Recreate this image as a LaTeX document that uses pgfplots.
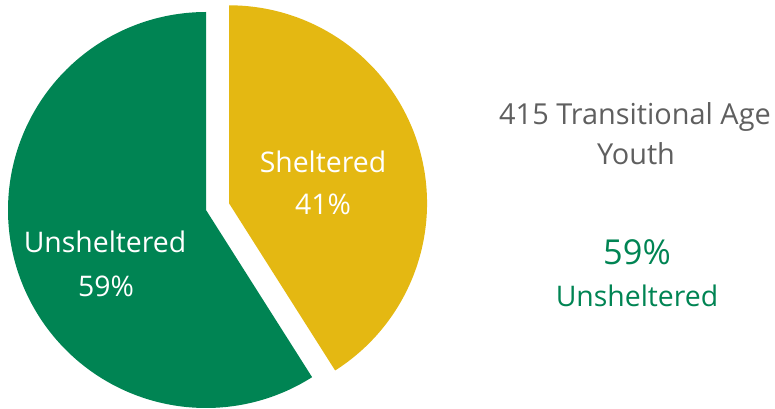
\documentclass[border=0pt]{standalone}
\usepackage{pgfplots}
\usepackage{pgfplotstable}
\pgfplotsset{compat=1.18}
\usepackage{fontspec}
\setmainfont{Open Sans}
\definecolor{pgreen}{HTML}{008453}
\definecolor{pyellow}{HTML}{E4B812}
\definecolor{pgray}{HTML}{5F5F5F}
\pgfplotstableread{
label value
Sheltered 41
Unsheltered 59
}\piedata
\begin{document}
\begin{tikzpicture}
\useasboundingbox (0,0) rectangle (775bp,409bp);
\pgfplotstablegetelem{0}{value}\of\piedata \let\vs\pgfplotsretval
\pgfplotstablegetelem{1}{value}\of\piedata \let\vu\pgfplotsretval
\pgfmathsetmacro{\aend}{90-3.6*\vs}
\pgfmathsetmacro{\amid}{90-1.8*\vs}
\pgfmathsetmacro{\uend}{\aend-3.6*\vu}
\pgfmathsetmacro{\cx}{206}
\pgfmathsetmacro{\cy}{199}
\pgfmathsetmacro{\R}{198}
\pgfmathsetmacro{\ex}{\cx+24*cos(\amid)}
\pgfmathsetmacro{\ey}{\cy+24*sin(\amid)}
\begin{axis}[
  at={(0,0)}, anchor=south west,
  width=775bp, height=409bp, scale only axis,
  xmin=0, xmax=775, ymin=0, ymax=409,
  hide axis, clip=false,
]
\addplot[draw=none, fill=pgreen, variable=\t, domain=\aend:\uend, samples=200]
  ({\cx+\R*cos(\t)},{\cy+\R*sin(\t)}) -- (axis cs:\cx,\cy) -- cycle;
\addplot[draw=none, fill=pyellow, variable=\t, domain=90:\aend, samples=150]
  ({\ex+\R*cos(\t)},{\ey+\R*sin(\t)}) -- (axis cs:\ex,\ey) -- cycle;
\node[anchor=base, text=white, font=\fontsize{28.5}{32}\selectfont] at (axis cs:323,236) {Sheltered};
\node[anchor=base, text=white, font=\fontsize{28.5}{32}\selectfont] at (axis cs:323,194) {\vs\%};
\node[anchor=base, text=white, font=\fontsize{28.5}{32}\selectfont] at (axis cs:105,156) {Unsheltered};
\node[anchor=base, text=white, font=\fontsize{28.5}{32}\selectfont] at (axis cs:106,112) {\vu\%};
\node[anchor=base, text=pgray, font=\fontsize{29}{32}\selectfont] at (axis cs:635,284) {415 Transitional Age};
\node[anchor=base, text=pgray, font=\fontsize{29}{32}\selectfont] at (axis cs:636,244) {Youth};
\node[anchor=base, text=pgreen, font=\fontsize{34.5}{38}\selectfont] at (axis cs:637,144) {\vu\%};
\node[anchor=base, text=pgreen, font=\fontsize{28.5}{32}\selectfont] at (axis cs:637,102) {Unsheltered};
\end{axis}
\end{tikzpicture}
\end{document}
